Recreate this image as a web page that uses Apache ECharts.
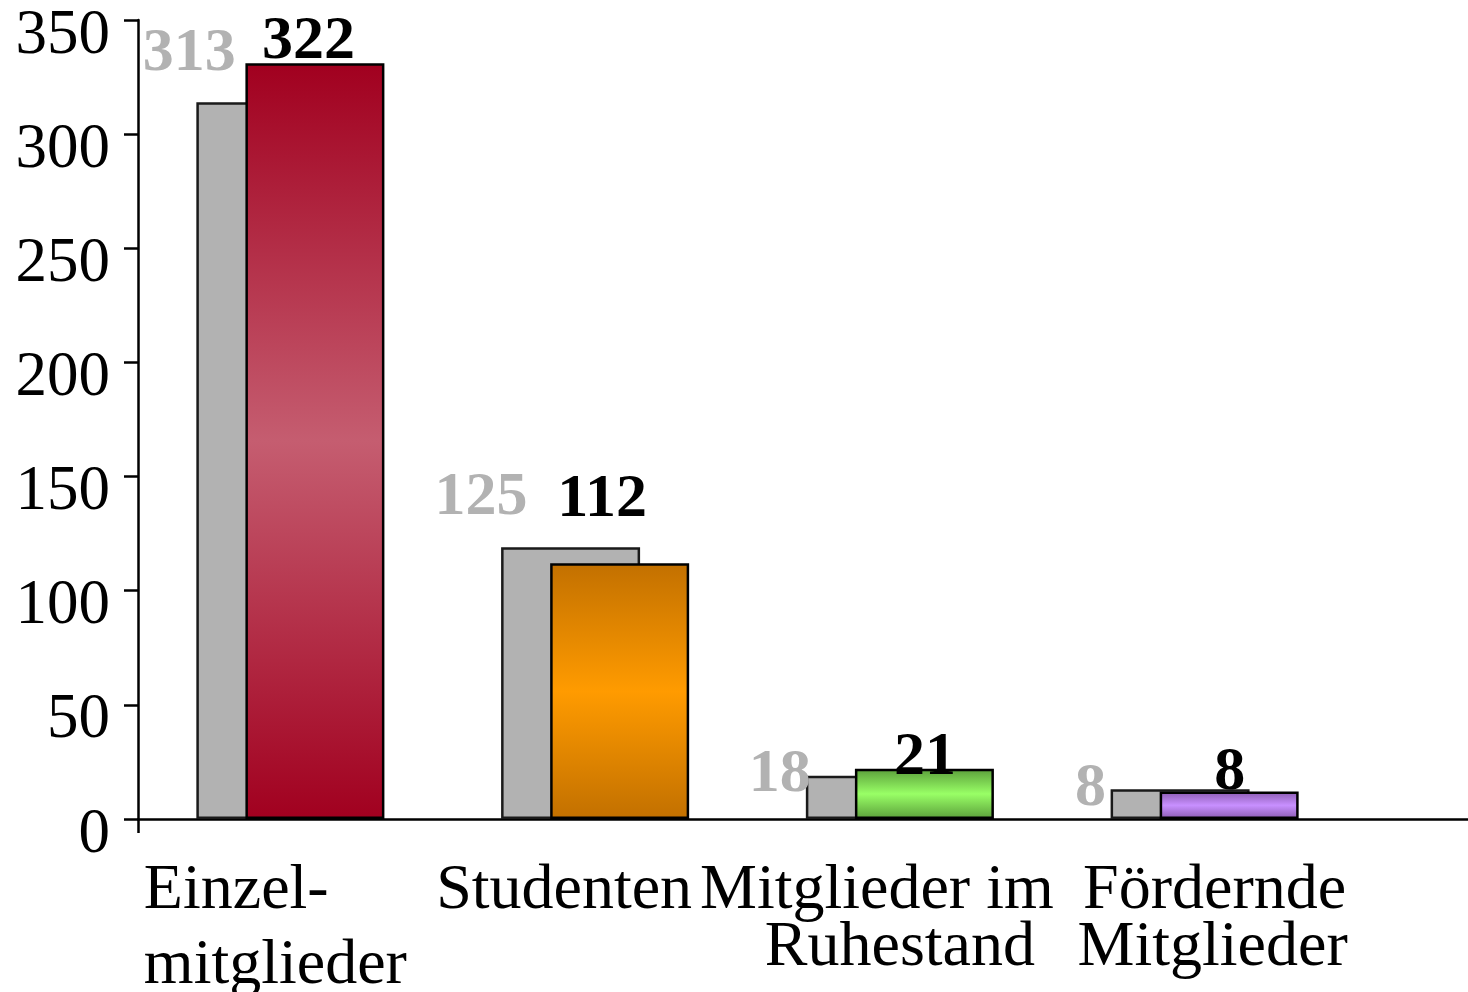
<!DOCTYPE html>
<html>
<head>
<meta charset="utf-8">
<script src="https://cdn.jsdelivr.net/npm/echarts@6/dist/echarts.min.js"></script>
<style>
  html, body { margin: 0; padding: 0; background: #fff; }
  #chart { width: 1468px; height: 992px; }
</style>
</head>
<body>
<div id="chart"></div>
<script>
// categories on the x axis
const categories = ['Einzel-\nmitglieder', 'Studenten', 'Mitglieder im\nRuhestand', 'Fördernde\nMitglieder'];
// bar heights as drawn (previous year grey, current year coloured)
const prevValues = [314, 119, 19, 13];
const currValues = [331, 112, 22, 12];
// numbers printed above the bars
const prevLabels = ['313', '125', '18', '8'];
const currLabels = ['322', '112', '21', '8'];
// y axis
const yTicks = [0, 50, 100, 150, 200, 250, 300, 350];

const FONT = '"Liberation Serif", "Times New Roman", serif';

// one gradient per category for the current-year bars: [edge, middle]
const barColours = [
  ['#a1001f', '#c55d70'],
  ['#c27000', '#ff9b00'],
  ['#5a9e3a', '#99ff66'],
  ['#8a5ab0', '#c890ff']
];
const gradient = ([edge, mid]) => new echarts.graphic.LinearGradient(0, 0, 0, 1, [
  { offset: 0, color: edge },
  { offset: 0.5, color: mid },
  { offset: 1, color: edge }
]);

// label placement relative to each bar's top-left corner (hand tuned)
const prevLabelPos = [[-7, -48], [-20, -49], [-26, -1], [-20, 0]];
const currLabelPos = [[63, -21], [52, -63], [70, -11], [70, -19]];

// rich style per line of each category label (the source nudges them a bit)
const catLineStyles = [['e1', 'e2'], ['s'], ['m1', 'm2'], ['f1', 'f2']];

const labelStyle = (pos, colour) => ({
  show: true,
  position: pos,
  align: 'center',
  verticalAlign: 'middle',
  fontFamily: FONT,
  fontWeight: 'bold',
  fontSize: 62,
  color: colour
});

const catText = (extra) => Object.assign({ fontFamily: FONT, fontSize: 64, lineHeight: 57, color: '#000' }, extra);

const chart = echarts.init(document.getElementById('chart'), null, { renderer: 'canvas' });

chart.setOption({
  animation: false,
  backgroundColor: '#fff',
  grid: [
    { left: 138, right: 111, top: 20, bottom: 173, outerBoundsMode: 'none', containLabel: false },
    { left: 138, right: -3, top: 20, bottom: 173, outerBoundsMode: 'none', containLabel: false }
  ],
  xAxis: [
    {
      type: 'category',
      gridIndex: 0,
      data: categories,
      axisLine: { show: false },
      axisTick: { show: false },
      axisLabel: {
        margin: 44,
        interval: 0,
        fontFamily: FONT,
        fontSize: 64,
        color: '#000',
        lineHeight: 57,
        formatter: (v, i) => v.split('\n').map((l, k) => '{' + catLineStyles[i][k] + '|' + l + '}').join('\n'),
        rich: {
          e1: catText({ align: 'left' }),
          e2: catText({ lineHeight: 93, align: 'left', padding: [0, 30, 0, 0] }),
          s: catText({ padding: [0, 62, 0, 0] }),
          m1: catText({ padding: [0, 46, 0, 0] }),
          m2: catText({}),
          f1: catText({ padding: [0, 0, 0, 20] }),
          f2: catText({ padding: [0, 0, 0, 16] })
        }
      }
    },
    {
      type: 'value',
      gridIndex: 1,
      min: 0,
      max: 1,
      interval: 1,
      axisLine: { show: true, onZero: false, lineStyle: { color: '#000', width: 2.5 } },
      axisTick: { show: true, inside: false, length: 14, lineStyle: { color: '#000', width: 2.5 } },
      axisLabel: { show: false },
      splitLine: { show: false }
    }
  ],
  yAxis: [
    {
      type: 'value',
      gridIndex: 0,
      min: yTicks[0],
      max: yTicks[yTicks.length - 1],
      interval: yTicks[1] - yTicks[0],
      axisLine: { show: true, lineStyle: { color: '#000', width: 2.5 } },
      axisTick: { show: true, inside: false, length: 14, lineStyle: { color: '#000', width: 2.5 } },
      splitLine: { show: false },
      axisLabel: {
        margin: 28,
        fontFamily: FONT,
        fontSize: 63,
        color: '#000',
        verticalAlign: 'top',
        lineHeight: 32
      }
    },
    { type: 'value', gridIndex: 1, show: false }
  ],
  series: [
    {
      name: 'prev',
      type: 'bar',
      xAxisIndex: 0,
      yAxisIndex: 0,
      barWidth: 139,
      barGap: '-64.7%',
      itemStyle: { color: '#b2b2b2', borderColor: '#1a1a1a', borderWidth: 2.5 },
      data: prevValues.map((v, i) => ({
        value: v,
        label: labelStyle(prevLabelPos[i], '#b2b2b2')
      })),
      label: { show: true, formatter: (p) => prevLabels[p.dataIndex] }
    },
    {
      name: 'curr',
      type: 'bar',
      xAxisIndex: 0,
      yAxisIndex: 0,
      barWidth: 139,
      barGap: '-64.7%',
      data: currValues.map((v, i) => ({
        value: v,
        itemStyle: { color: gradient(barColours[i]), borderColor: '#000', borderWidth: 2.5 },
        label: labelStyle(currLabelPos[i], '#000')
      })),
      label: { show: true, formatter: (p) => currLabels[p.dataIndex] }
    }
  ]
});
</script>
</body>
</html>
